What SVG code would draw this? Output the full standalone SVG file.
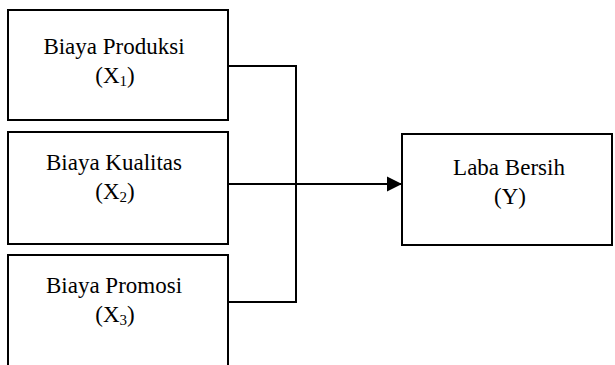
<svg xmlns="http://www.w3.org/2000/svg" width="615" height="365" viewBox="0 0 615 365">
<style>
.box{fill:#fff;stroke:#000;stroke-width:2}
.lbl{font-family:"Liberation Serif","Times New Roman",serif;font-size:23px;fill:#000;text-anchor:middle}
.sub{font-size:15px}
.con{fill:none;stroke:#000;stroke-width:2}
</style>
<defs>
<marker id="arr" markerUnits="userSpaceOnUse" markerWidth="16" markerHeight="16" refX="15" refY="8" orient="auto">
<path d="M0,0.5 L15,8 L0,15.5 Z" fill="#000"/>
</marker>
</defs>
<rect width="615" height="365" fill="#fff"/>
<g id="x1">
<rect class="box" x="8" y="10" width="220" height="110"/>
<text class="lbl" x="114" y="54">Biaya Produksi</text>
<text class="lbl" x="115" y="83">(X<tspan class="sub" dy="3">1</tspan><tspan dy="-3">)</tspan></text>
</g>
<g id="x2">
<rect class="box" x="8" y="132" width="220" height="112"/>
<text class="lbl" x="114" y="170">Biaya Kualitas</text>
<text class="lbl" x="115" y="199">(X<tspan class="sub" dy="3">2</tspan><tspan dy="-3">)</tspan></text>
</g>
<g id="x3">
<rect class="box" x="8" y="255" width="220" height="130"/>
<text class="lbl" x="114" y="293">Biaya Promosi</text>
<text class="lbl" x="115" y="322">(X<tspan class="sub" dy="3">3</tspan><tspan dy="-3">)</tspan></text>
</g>
<g id="y">
<rect class="box" x="402" y="134" width="210" height="111"/>
<text class="lbl" x="509" y="175">Laba Bersih</text>
<text class="lbl" x="510" y="204">(Y)</text>
</g>
<g id="connectors">
<polyline class="con" points="228,66 296,66 296,302 228,302"/>
<line class="con" x1="228" y1="184" x2="402" y2="184" marker-end="url(#arr)"/>
</g>
</svg>
